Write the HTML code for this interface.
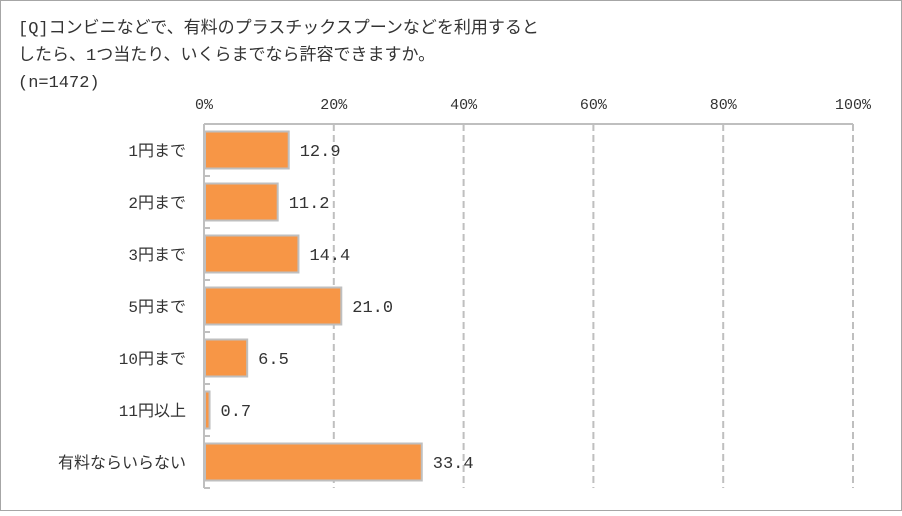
<!DOCTYPE html>
<html><head><meta charset="utf-8"><style>
body{margin:0;background:#fff}
#c{position:relative;width:902px;height:511px;font-family:"Liberation Mono","Noto Sans CJK JP",monospace;}
svg text{font-family:"Liberation Mono","Noto Sans CJK JP",monospace;}
</style></head><body>
<div id="c">
<svg id="s" width="902" height="511">
<rect x="0.5" y="0.5" width="901" height="510" fill="#fff" stroke="#a6a6a6"/>
<text x="18" y="33" font-size="17" fill="#333">[Q]コンビニなどで、有料のプラスチックスプーンなどを利用すると</text>
<text x="18" y="60" font-size="17" fill="#333">したら、1つ当たり、いくらまでなら許容できますか。</text>
<text x="18" y="87" font-size="17" fill="#333">(n=1472)</text>
</svg></div>
<script>
const categories=["1円まで","2円まで","3円まで","5円まで","10円まで","11円以上","有料ならいらない"];
const values=[12.9,11.2,14.4,21.0,6.5,0.7,33.4];
const ticks=[0,20,40,60,80,100];
const tickLabels=["0%","20%","40%","60%","80%","100%"];
const s=document.getElementById('s');const NS='http://www.w3.org/2000/svg';
const x0=204,x1=853,yTop=124,yBot=488,slot=(yBot-yTop)/categories.length;
const X=v=>x0+(x1-x0)*v/100;
function mk(t,a,p){const e=document.createElementNS(NS,t);for(const k in a)e.setAttribute(k,a[k]);(p||s).appendChild(e);return e;}
ticks.forEach((t,i)=>{
 if(i>0){const g=mk('line',{x1:X(t),x2:X(t),y1:yTop,y2:yBot,stroke:'#bfbfbf','stroke-width':2,'stroke-dasharray':'7,4'});
 
 }
 const l=mk('text',{x:X(t),y:109,'text-anchor':'middle','font-size':15,fill:'#333'});l.textContent=tickLabels[i];
 
 
});
const ax=mk('line',{x1:x0,x2:x1,y1:yTop,y2:yTop,stroke:'#bfbfbf','stroke-width':2});


const ay=mk('line',{x1:x0,x2:x0,y1:yTop,y2:yBot,stroke:'#bfbfbf','stroke-width':2});


for(let i=0;i<=categories.length;i++){const tk=mk('line',{x1:x0,x2:x0+6,y1:yTop+i*slot,y2:yTop+i*slot,stroke:'#bfbfbf','stroke-width':2});
 
 }
categories.forEach((c,i)=>{
 const cy=yTop+slot*(i+0.5),h=37;
 const r=mk('rect',{x:x0+1,y:cy-h/2,width:Math.max(X(values[i])-x0,1),height:h,fill:'#F79646',stroke:'#bfbfbf','stroke-width':2});
 
 
 const v=mk('text',{x:X(values[i])+12,y:cy+6,'font-size':17,fill:'#333'});v.textContent=values[i].toFixed(1);
 
 
 const t=mk('text',{x:186,y:cy+6,'text-anchor':'end','font-size':16,fill:'#333'});t.textContent=c;
 
 
});
</script></body></html>
